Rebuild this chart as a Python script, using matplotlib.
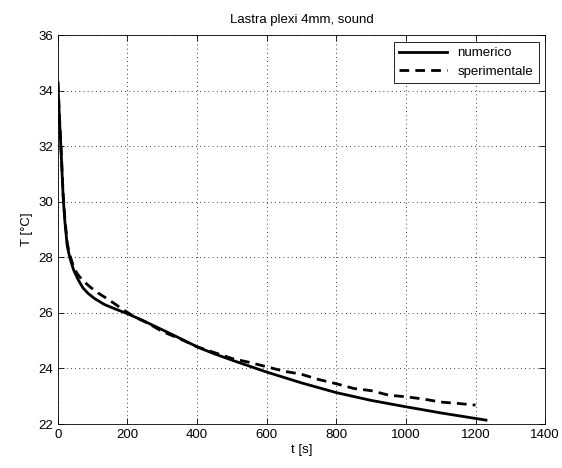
import matplotlib
matplotlib.use("Agg")
import matplotlib.pyplot as plt

# numerical model (solid)
t_num = [0, 3, 6, 10, 15, 20, 27, 34, 45, 58, 72, 87, 105, 134, 165, 200,
         240, 277, 340, 403, 449, 500, 600, 700, 800, 900, 1000, 1100,
         1200, 1230]
T_num = [34.3, 33.4, 32.6, 31.6, 30.2, 29.3, 28.4, 28.0, 27.55, 27.2, 26.9,
         26.7, 26.52, 26.3, 26.14, 25.97, 25.75, 25.53, 25.15, 24.76, 24.53,
         24.3, 23.87, 23.48, 23.13, 22.85, 22.62, 22.4, 22.2, 22.14]

# experimental (dashed)
t_exp = [0, 3, 6, 10, 15, 20, 27, 34, 45, 56, 68, 82, 96, 115, 139, 163,
         187, 220, 260, 300, 350, 400, 450, 500, 550, 600, 650, 700, 750,
         800, 850, 900, 950, 1000, 1050, 1100, 1150, 1200]
T_exp = [34.3, 33.5, 32.7, 31.7, 30.3, 29.4, 28.5, 28.1, 27.65, 27.4, 27.22,
         27.05, 26.9, 26.72, 26.53, 26.33, 26.12, 25.86, 25.62, 25.33, 25.07,
         24.78, 24.57, 24.36, 24.22, 24.06, 23.9, 23.79, 23.6, 23.45, 23.28,
         23.2, 23.04, 22.98, 22.9, 22.79, 22.74, 22.68]

plt.rcParams['font.family'] = ['Liberation Sans', 'DejaVu Sans']
plt.rcParams['font.size'] = 9.5

fig = plt.figure(figsize=(5.62, 4.68), dpi=100)
ax = fig.add_axes([0.103, 0.094, 0.867, 0.831])

ax.plot(t_num, T_num, color="black", lw=2.0, label="numerico")
ax.plot(t_exp, T_exp, color="black", lw=2.0, ls=(0, (3.5, 2.2)), label="sperimentale")

ax.set_xlim(0, 1400)
ax.set_ylim(22, 36)
ax.set_xticks(range(0, 1401, 200))
ax.set_yticks(range(22, 37, 2))
ax.grid(True, color="black", ls=(0, (1, 4)), lw=0.6)
ax.tick_params(direction="in", top=True, right=True, length=4, width=0.6)
for s in ax.spines.values():
    s.set_linewidth(0.6)

ax.set_xlabel("t [s]", labelpad=2)
ax.set_ylabel("T [°C]")
ax.set_title("Lastra plexi 4mm, sound", fontsize=9.5, pad=9)

leg = ax.legend(loc="upper right", fancybox=False, framealpha=1,
                edgecolor="black", handlelength=3.6, borderaxespad=0.5,
                labelspacing=0.5)
leg.get_frame().set_linewidth(0.6)

fig.savefig("out.png", dpi=100)
